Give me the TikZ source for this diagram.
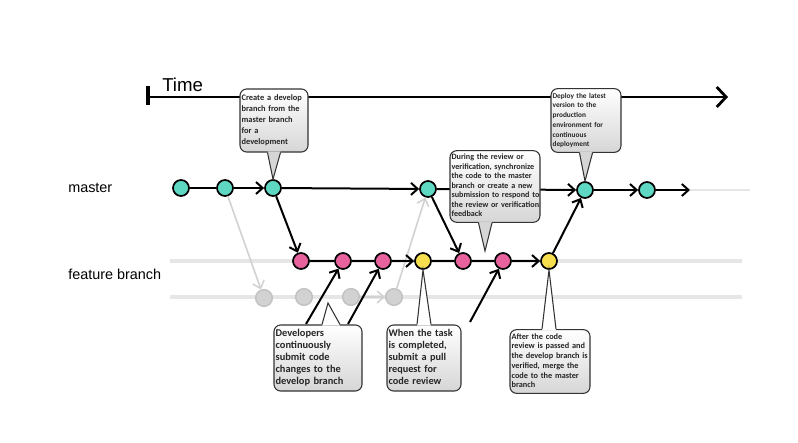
\documentclass[tikz,border=0pt]{standalone}
\usepackage{fontspec}
\setmainfont{Liberation Sans}
\newfontfamily\calfont{Carlito}
\usetikzlibrary{arrows.meta,calc}
\definecolor{tealc}{HTML}{5ED8C3}
\definecolor{pinkc}{HTML}{E8629E}
\definecolor{yellc}{HTML}{F6DE4F}
\definecolor{grayc}{HTML}{D2D2D2}
\definecolor{grayb}{HTML}{C2C2C2}
\definecolor{lanec}{HTML}{E6E6E6}
\definecolor{boxbot}{HTML}{D6D6D6}
\newcommand{\cl}[1]{\begin{tabular}{@{}l@{}}#1\end{tabular}}
\begin{document}
\begin{tikzpicture}[x=0.75pt,y=-0.75pt,
  commit/.style={circle, draw=black, line width=1.3pt, minimum size=12pt, inner sep=0pt},
  mnode/.style={commit, fill=tealc},
  pnode/.style={commit, fill=pinkc},
  ynode/.style={commit, fill=yellc},
  gnode/.style={circle, draw=grayb, fill=grayc, line width=1.1pt, minimum size=12.5pt, inner sep=0pt},
  conn/.style={line width=1.5pt, black},
  arr/.style={conn, -{Straight Barb[length=5pt,width=9pt]}},
  garr/.style={line width=1.2pt, grayc, -{Straight Barb[length=5pt,width=9pt]}},
  lane/.style={line width=2.6pt, lanec},
  callbox/.style={draw=black!80, line width=0.8pt, rounded corners=5pt, top color=white, bottom color=boxbot, inner xsep=1.2pt, inner ysep=2pt, align=left, text=black!85},
  ptr/.style={draw=black!80, line width=0.8pt, line join=miter},
  lbl/.style={inner sep=0pt, anchor=west, font=\fontsize{10.8pt}{12pt}\selectfont}
]
\useasboundingbox (0,0) rectangle (798,442);

% labels
\node[lbl, font=\fontsize{14pt}{16pt}\selectfont] (time) at (162,85) {Time};
\node[lbl] (lmaster) at (68,188) {master};
\node[lbl] (lfeat) at (68,274) {feature branch};

% lanes
\coordinate (fl0) at (170,261); \coordinate (fl1) at (742,261);
\coordinate (gl0) at (170,297); \coordinate (gl1) at (742,297);
\coordinate (ml0) at (690,190); \coordinate (ml1) at (750,190);
\draw[lane] (fl0) -- (fl1);
\draw[lane] (gl0) -- (gl1);
\draw[lane, line width=2pt] (ml0) -- (ml1);

% time axis
\coordinate (t0) at (148,97); \coordinate (t1) at (728,97);
\coordinate (tk0) at (148,86); \coordinate (tk1) at (148,105);
\draw[line width=2.1pt, -{Straight Barb[length=7pt,width=15pt]}] (t0) -- (t1);
\draw[line width=2.6pt] (tk0) -- (tk1);

% commits
\node[mnode] (M1) at (181,188) {};
\node[mnode] (M2) at (225,188) {};
\node[mnode] (M3) at (273,188) {};
\node[mnode] (M4) at (428,189) {};
\node[mnode] (M5) at (585,190) {};
\node[mnode] (M6) at (647,190) {};
\coordinate (Mend) at (690,190);

\node[pnode] (P1) at (301,261) {};
\node[pnode] (P2) at (343,261) {};
\node[pnode] (P3) at (383,261) {};
\node[ynode] (Y1) at (423,261) {};
\node[pnode] (P4) at (463,261) {};
\node[pnode] (P5) at (503,261) {};
\node[ynode] (Y2) at (549,261) {};

\node[gnode] (G1) at (264,298) {};
\node[gnode] (G2) at (304,297) {};
\node[gnode] (G3) at (351,297) {};
\node[gnode] (G4) at (394,297) {};

\coordinate (s1) at (306,324);
\coordinate (s2) at (348,324);
\coordinate (s3) at (470,322);

% gray connectors
\draw[garr] (M2) -- (G1);
\draw[garr] (G3) -- (G4);
\draw[garr] (G4) -- (M4);

% master connectors
\draw[conn] (M1) -- (M2);
\draw[arr] (M2) -- (M3);
\draw[arr] (M3) -- (M4);
\draw[arr] (M4) -- (M5);
\draw[arr] (M5) -- (M6);
\draw[arr] (M6) -- (Mend);

% feature connectors
\draw[conn] (P1) -- (P2);
\draw[conn] (P2) -- (P3);
\draw[arr] (P3) -- (Y1);
\draw[conn] (Y1) -- (P4);
\draw[conn] (P4) -- (P5);
\draw[arr] (P5) -- (Y2);

% cross connectors
\draw[arr] (M3) -- (P1);
\draw[arr] (M4) -- (P4);
\draw[arr] (Y2) -- (M5);
\draw[arr] (s1) -- (P2);
\draw[arr] (s2) -- (P3);
\draw[arr] (s3) -- (P5);

% callouts
\node[callbox, text width=48.6pt, minimum height=47.25pt, font=\calfont\bfseries\fontsize{6.3pt}{8.2pt}\selectfont] (c1) at (274,120.5)
 {\cl{Create a develop\\branch from the\\master branch\\for a\\development}};
\node[callbox, text width=50.1pt, minimum height=47.25pt, font=\calfont\bfseries\fontsize{5.5pt}{7.3pt}\selectfont] (c2) at (586,120.5)
 {\cl{Deploy the latest\\version to the\\production\\environment for\\continuous\\deployment}};
\node[callbox, text width=65.1pt, minimum height=53.25pt, font=\calfont\bfseries\fontsize{6.1pt}{7.1pt}\selectfont] (c3) at (495,186.5)
 {\cl{During the review or\\verification, synchronize\\the code to the master\\branch or create a new\\submission to respond to\\the review or verification\\feedback}};
\node[callbox, text width=63.6pt, minimum height=49.5pt, font=\calfont\bfseries\fontsize{7.8pt}{9pt}\selectfont] (c4) at (318,358)
 {\cl{Developers\\continuously\\submit code\\changes to the\\develop branch}};
\node[callbox, text width=53.1pt, minimum height=49.5pt, font=\calfont\bfseries\fontsize{7.7pt}{9pt}\selectfont] (c5) at (424,358)
 {\cl{When the task\\is completed,\\submit a pull\\request for\\code review}};
\node[callbox, text width=57.6pt, minimum height=47.25pt, font=\calfont\bfseries\fontsize{6.2pt}{7.3pt}\selectfont] (c6) at (550,361.5)
 {\cl{After the code\\review is passed and\\the develop branch is\\verified, merge the\\code to the master\\branch}};

\coordinate (tip3) at (485,251);
\coordinate (tip4) at (328,303);

% pointers (down)
\fill[boxbot] ($(c1.south)+(-6.5,-1.2)$) -- (M3.north) -- ($(c1.south)+(6.5,-1.2)$) -- cycle;
\draw[ptr] ($(c1.south)+(-6.5,0)$) -- (M3.north) -- ($(c1.south)+(6.5,0)$);
\fill[boxbot] ($(c2.south)+(-6.5,-1.2)$) -- (M5.north) -- ($(c2.south)+(6.5,-1.2)$) -- cycle;
\draw[ptr] ($(c2.south)+(-6.5,0)$) -- (M5.north) -- ($(c2.south)+(6.5,0)$);
\fill[boxbot] ($(c3.south)+(-16.5,-1.2)$) -- (tip3) -- ($(c3.south)+(-3,-1.2)$) -- cycle;
\draw[ptr] ($(c3.south)+(-16.5,0)$) -- (tip3) -- ($(c3.south)+(-3,0)$);
% pointers (up)
\fill[white] ($(c4.north)+(4,1.2)$) -- (tip4) -- ($(c4.north)+(22,1.2)$) -- cycle;
\draw[ptr] ($(c4.north)+(4,0)$) -- (tip4) -- ($(c4.north)+(22,0)$);
\fill[white] ($(c5.north)+(-7,1.2)$) -- (Y1.south) -- ($(c5.north)+(7,1.2)$) -- cycle;
\draw[ptr] ($(c5.north)+(-7,0)$) -- (Y1.south) -- ($(c5.north)+(7,0)$);
\fill[white] ($(c6.north)+(-8,1.2)$) -- (Y2.south) -- ($(c6.north)+(6,1.2)$) -- cycle;
\draw[ptr] ($(c6.north)+(-8,0)$) -- (Y2.south) -- ($(c6.north)+(6,0)$);
\end{tikzpicture}
\end{document}
